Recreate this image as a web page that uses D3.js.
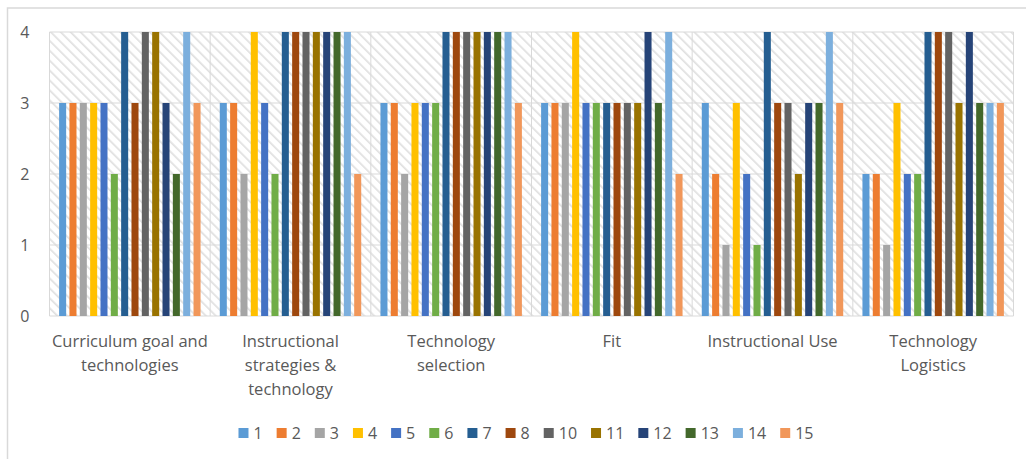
<!DOCTYPE html>
<html>
<head>
<meta charset="utf-8">
<script src="https://cdn.jsdelivr.net/npm/d3@7"></script>
<style>
  body { margin: 0; background: #fff; }
  text { font-family: "Open Sans", Lato, sans-serif; fill: #595959; }
</style>
</head>
<body>
<svg id="chart" width="1026" height="459"></svg>
<script>
var categories = [
  'Curriculum goal and\ntechnologies',
  'Instructional\nstrategies &\ntechnology',
  'Technology\nselection',
  'Fit',
  'Instructional Use',
  'Technology\nLogistics'
];
var seriesNames = ['1', '2', '3', '4', '5', '6', '7', '8', '10', '11', '12', '13', '14', '15'];
var seriesColors = ['#5b9bd5', '#ed7d31', '#a5a5a5', '#ffc000', '#4472c4', '#70ad47', '#255e91',
  '#9e480e', '#636363', '#997300', '#264478', '#43682b', '#7cafdd', '#f1975a'];
// one row per category, one value per series
var values = [
  [3, 3, 3, 3, 3, 2, 4, 3, 4, 4, 3, 2, 4, 3],
  [3, 3, 2, 4, 3, 2, 4, 4, 4, 4, 4, 4, 4, 2],
  [3, 3, 2, 3, 3, 3, 4, 4, 4, 4, 4, 4, 4, 3],
  [3, 3, 3, 4, 3, 3, 3, 3, 3, 3, 4, 3, 4, 2],
  [3, 2, 1, 3, 2, 1, 4, 3, 3, 2, 3, 3, 4, 3],
  [2, 2, 1, 3, 2, 2, 4, 4, 4, 3, 4, 3, 3, 3]
];
var yTicks = [0, 1, 2, 3, 4];

var svg = d3.select('#chart');
var margin = {left: 49.5, right: 12.5, top: 32, bottom: 143};
var width = 1026 - margin.left - margin.right,
  height = 459 - margin.top - margin.bottom;

// outer chart border (top and left edges visible)
svg.append('path')
  .attr('d', 'M7.5,459 L7.5,8 L1026,8')
  .attr('fill', 'none')
  .attr('stroke', '#d9d9d9')
  .attr('stroke-width', 1.5);

var defs = svg.append('defs');
var pat = defs.append('pattern')
  .attr('id', 'hatch')
  .attr('patternUnits', 'userSpaceOnUse')
  .attr('width', 7)
  .attr('height', 7)
  .attr('patternTransform', 'rotate(-45)');
pat.append('rect').attr('width', 7).attr('height', 7).attr('fill', '#fff');
pat.append('line')
  .attr('x1', 0).attr('y1', 0).attr('x2', 0).attr('y2', 7)
  .attr('stroke', '#e0e0e0')
  .attr('stroke-width', 3.4);

var g = svg.append('g')
  .attr('transform', 'translate(' + margin.left + ',' + margin.top + ')');

var x0 = d3.scaleBand().domain(d3.range(categories.length)).range([0, width]);
var x1 = d3.scaleBand().domain(d3.range(seriesNames.length))
  .range([0, x0.bandwidth()])
  .paddingInner(0.32)
  .paddingOuter(0.93);
var y = d3.scaleLinear().domain([0, 4]).range([height, 0]);

g.append('rect')
  .attr('width', width)
  .attr('height', height)
  .attr('fill', 'url(#hatch)');

// gridlines
g.selectAll('line.hgrid')
  .data(yTicks)
  .enter()
  .append('line')
  .classed('hgrid', true)
  .attr('x1', 0).attr('x2', width)
  .attr('y1', function(d) { return y(d); })
  .attr('y2', function(d) { return y(d); })
  .attr('stroke', '#d9d9d9')
  .attr('stroke-width', 1);

g.selectAll('line.vgrid')
  .data(d3.range(categories.length + 1))
  .enter()
  .append('line')
  .classed('vgrid', true)
  .attr('x1', function(d) { return d * x0.step(); })
  .attr('x2', function(d) { return d * x0.step(); })
  .attr('y1', 0).attr('y2', height)
  .attr('stroke', '#d9d9d9')
  .attr('stroke-width', 1);

// bars
var groups = g.selectAll('g.cat')
  .data(values)
  .enter()
  .append('g')
  .classed('cat', true)
  .attr('transform', function(d, i) { return 'translate(' + x0(i) + ',0)'; });

groups.selectAll('rect')
  .data(function(d) { return d; })
  .enter()
  .append('rect')
  .attr('x', function(d, i) { return x1(i); })
  .attr('width', x1.bandwidth())
  .attr('y', function(d) { return y(d); })
  .attr('height', function(d) { return height - y(d); })
  .attr('fill', function(d, i) { return seriesColors[i]; });

// y axis labels
var yAxis = g.append('g')
  .call(d3.axisLeft(y).tickValues(yTicks).tickSize(0).tickPadding(20).tickFormat(d3.format('d')));
yAxis.select('.domain').remove();
yAxis.selectAll('text')
  .style('font-size', '16px')
  .attr('fill', '#595959');

// category labels
var xAxis = g.append('g')
  .attr('transform', 'translate(0,' + height + ')')
  .call(d3.axisBottom(d3.scaleBand().domain(categories).range([0, width])).tickSize(0).tickFormat(''));
xAxis.select('.domain').remove();
xAxis.selectAll('.tick').each(function(d) {
  var t = d3.select(this).append('text')
    .attr('text-anchor', 'middle')
    .attr('y', 31)
    .style('font-size', '16.5px')
    .attr('fill', '#595959');
  d.split('\n').forEach(function(line, i) {
    t.append('tspan').attr('x', 0).attr('dy', i ? 24 : 0).text(line);
  });
});

// legend
var legend = svg.append('g').attr('transform', 'translate(0,433)');
var items = legend.selectAll('g.item')
  .data(seriesNames)
  .enter()
  .append('g')
  .classed('item', true);
items.append('rect')
  .attr('y', -5)
  .attr('width', 10)
  .attr('height', 10)
  .attr('fill', function(d, i) { return seriesColors[i]; });
items.append('text')
  .attr('x', 15)
  .attr('dy', '0.36em')
  .style('font-size', '16px')
  .text(function(d) { return d; });

var cursor = 0;
items.each(function() {
  var it = d3.select(this);
  it.attr('transform', 'translate(' + cursor + ',0)');
  cursor += 15 + it.select('text').node().getComputedTextLength() + 14;
});
var legendWidth = cursor - 14;
legend.attr('transform', 'translate(' + (526 - legendWidth / 2) + ',433)');
</script>
</body>
</html>
